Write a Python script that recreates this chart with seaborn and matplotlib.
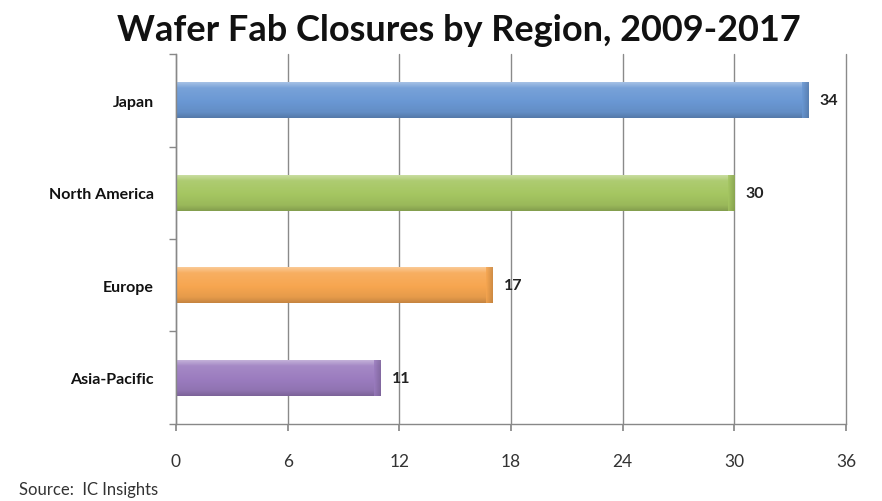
import matplotlib
matplotlib.use("Agg")
import matplotlib.pyplot as plt
import seaborn as sns
import pandas as pd
import numpy as np
from matplotlib.colors import LinearSegmentedColormap, to_rgb

regions = ["Japan", "North America", "Europe", "Asia-Pacific"]
closures = [34, 30, 17, 11]
bar_colors = ["#6a98d4", "#a5c661", "#f7a650", "#9b7cbf"]
x_ticks = [0, 6, 12, 18, 24, 30, 36]

sns.set_theme(style="white")
plt.rcParams["font.family"] = ["Lato", "DejaVu Sans"]

df = pd.DataFrame({"region": regions, "closures": closures})

fig = plt.figure(figsize=(8.82, 5.02), dpi=100)
ax = fig.add_axes([0.1995, 0.1534, 0.7597, 0.737])

sns.barplot(data=df, y="region", x="closures", hue="region",
            palette=bar_colors, orient="h", width=0.39, ax=ax,
            legend=False, saturation=1, edgecolor="none")

ax.set_xlim(0, 36)
ax.set_ylim(len(regions) - 0.5, -0.5)

# vertical gradient inside each bar: light top, base body, darker bottom edge
grad = np.linspace(0, 1, 64).reshape(-1, 1)
for patch, col in zip(list(ax.patches), bar_colors):
    x0, y0 = patch.get_x(), patch.get_y()
    w, h = patch.get_width(), patch.get_height()
    base = np.array(to_rgb(col))
    light = base + (1 - base) * 0.45
    dark = base * 0.80
    cmap = LinearSegmentedColormap.from_list(
        "shade", [(0, light), (0.18, base + (1 - base) * 0.1), (0.55, base), (0.85, base * 0.93), (1, dark)])
    im = ax.imshow(grad, cmap=cmap, aspect="auto", extent=(x0, x0 + w, y0 + h, y0),
                   origin="upper", zorder=patch.get_zorder() + 0.1, interpolation="bilinear")
    im.set_clip_path(patch)
    # darker end cap
    end = ax.imshow(np.linspace(0, 1, 16).reshape(1, -1),
                    cmap=LinearSegmentedColormap.from_list("cap", [base, dark]),
                    aspect="auto", extent=(x0 + w - 0.35, x0 + w, y0 + h, y0),
                    zorder=patch.get_zorder() + 0.2, interpolation="bilinear", alpha=0.8)
    end.set_clip_path(patch)

ax.set_xlim(0, 36)
ax.set_ylim(len(regions) - 0.5, -0.5)

for patch, v in zip(ax.patches[:len(closures)], closures):
    ax.text(v + 0.6, patch.get_y() + patch.get_height() / 2, str(v),
            va="center", ha="left", fontsize=11.5, fontweight="bold", color="#222222")

ax.set_xticks(x_ticks)
ax.set_xticklabels([str(t) for t in x_ticks], fontsize=12.5, color="#333333")
ax.xaxis.grid(True, color="#8a8a8a", linewidth=1.0)
for gl in ax.get_xgridlines():
    gl.set_clip_on(False)
ax.yaxis.grid(False)
ax.set_axisbelow(True)

ax.set_yticks(range(len(regions)))
ax.set_yticklabels(regions, fontsize=11.5, fontweight="bold", color="#111111")
ax.set_yticks(np.arange(-0.5, len(regions), 1.0), minor=True)
ax.tick_params(axis="y", which="major", length=0, pad=16)
ax.tick_params(axis="y", which="minor", length=5, color="#888888", direction="out", left=True)
ax.tick_params(axis="x", which="major", length=5, color="#888888", direction="out", bottom=True, pad=16)

ax.set_xlabel("")
ax.set_ylabel("")
for s in ["top", "right"]:
    ax.spines[s].set_visible(False)
for s in ["left", "bottom"]:
    ax.spines[s].set_color("#888888")
    ax.spines[s].set_linewidth(1.0)

fig.text(0.52, 0.94, "Wafer Fab Closures by Region, 2009-2017", ha="center", va="center",
         fontsize=26, fontweight="bold", color="#111111")
fig.text(0.021, 0.024, "Source:  IC Insights", ha="left", va="center", fontsize=12, color="#333333")

fig.savefig("out.png", dpi=100, facecolor="white")
